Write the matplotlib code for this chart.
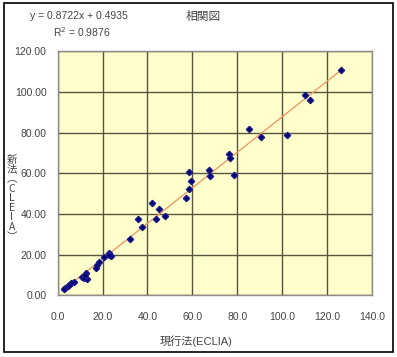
import matplotlib
matplotlib.use('Agg')
import matplotlib.pyplot as plt
from matplotlib.patches import Rectangle
import numpy as np

plt.rcParams['font.family'] = ['Liberation Sans', 'Noto Sans CJK JP', 'DejaVu Sans']

# 現行法(ECLIA) と 新法(CLEIA) の測定値
eclia = [126.0, 110.0, 112.3, 85.4, 90.6, 102.0, 76.2, 76.9, 67.5, 68.0, 78.4,
         58.3, 59.6, 58.6, 57.1, 41.9, 45.2, 47.7, 44.0, 35.9, 37.4, 32.3,
         22.8, 23.6, 23.0, 20.6, 18.3, 17.6, 16.9, 12.4, 10.9, 13.1, 11.8, 12.0,
         7.2, 6.0, 4.5, 3.4, 5.2, 2.8]
cleia = [110.8, 98.5, 96.0, 81.8, 77.8, 78.7, 69.5, 67.4, 61.6, 58.7, 59.0,
         60.8, 56.4, 52.1, 48.0, 45.6, 42.3, 39.2, 37.4, 37.4, 33.5, 27.8,
         20.7, 19.4, 20.0, 18.7, 16.4, 14.9, 13.3, 10.9, 9.2, 7.9, 8.5, 10.0,
         6.7, 5.9, 4.6, 3.5, 5.0, 3.2]

# 近似直線の係数
slope = 0.8722
intercept = 0.4935
r2 = 0.9876

x_ticks = [0, 20, 40, 60, 80, 100, 120, 140]
y_ticks = [0, 20, 40, 60, 80, 100, 120]

fig = plt.figure(figsize=(3.97, 3.57), dpi=100)
ax = fig.add_axes([0.1453, 0.1725, 0.7917, 0.6845])
ax.set_facecolor('#FFFFCC')

ax.set_xlim(0, 140)
ax.set_ylim(0, 120)
ax.set_xticks(x_ticks)
ax.set_yticks(y_ticks)
ax.set_xticklabels([f'{v:.1f}' for v in x_ticks])
ax.set_yticklabels([f'{v:.2f}' for v in y_ticks])
ax.grid(True, color='#555540', linewidth=1.0)
ax.set_axisbelow(True)
for s in ax.spines.values():
    s.set_color('#8c8c8c')
    s.set_linewidth(1.0)
ax.tick_params(axis='both', length=0, labelsize=7.5, colors='#444444')
ax.tick_params(axis='x', pad=12)
ax.tick_params(axis='y', pad=8)

# 近似直線
xs = np.array([min(eclia), max(eclia)])
ax.plot(xs, slope * xs + intercept, color='#F09A6A', linewidth=1.0, zorder=2)

# 散布図
ax.plot(eclia, cleia, linestyle='none', marker='D', markersize=3.2,
        color='#000070', markeredgecolor='#1a1a8a', zorder=3)

# テキスト
fig.text(0.199, 0.955, f'y = {slope}x + {intercept}', fontsize=7.5,
         ha='center', va='center', color='#444444')
fig.text(0.205, 0.910, f'R$^2$ = {r2}', fontsize=7.5,
         ha='center', va='center', color='#444444')
fig.text(0.512, 0.952, '相関図', fontsize=8.5, ha='center', va='center',
         color='#444444')
fig.text(0.493, 0.045, '現行法(ECLIA)', fontsize=8, ha='center', va='center',
         color='#444444')
ylabel = '新法︵CLEIA︶'
fig.text(0.030, 0.445, '\n'.join(ylabel), fontsize=7.5, ha='center',
         va='center', linespacing=0.95, color='#444444',
         family=['Noto Sans CJK JP', 'DejaVu Sans'])

# 外枠
fig.patches.append(Rectangle((0.010, 0.014), 0.980, 0.978, transform=fig.transFigure,
                             fill=False, edgecolor='black', linewidth=1.2))

fig.savefig('out.png', dpi=100)
